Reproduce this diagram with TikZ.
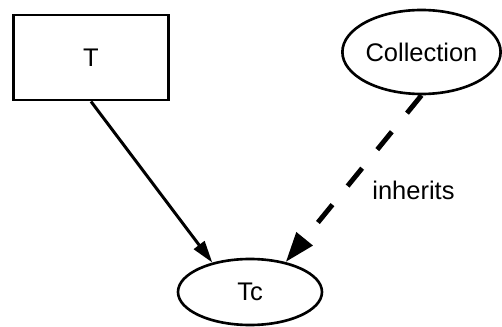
\documentclass[tikz,border=0pt]{standalone}
\usepackage{fontspec}
\setmainfont{Liberation Sans}
\usetikzlibrary{arrows.meta,shapes.geometric}

\begin{document}
\begin{tikzpicture}[
	every node/.style={font=\fontsize{14.5}{17}\selectfont},
	classbox/.style={draw, line width=1.7pt, minimum width=3.1cm, minimum height=1.7cm, inner sep=0pt},
	classoval/.style={draw, ellipse, line width=1.5pt, inner sep=0pt},
	uses/.style={-{Triangle[length=0.44cm,width=0.26cm]}, line width=1.7pt},
	inh/.style={-{Triangle[length=0.6cm,width=0.4cm]}, line width=2.8pt, dash pattern=on 0.46cm off 0.48cm}
]
	\useasboundingbox (0,0) rectangle (10.04,6.52);
	\node [classbox] (T) at (1.82, 5.37) {T};
	\node [classoval, minimum width=3.15cm, minimum height=1.68cm] (Coll) at (8.43, 5.48) {Collection};
	\node [classoval, minimum width=2.88cm, minimum height=1.32cm] (Tc) at (5.0, 0.68) {Tc};
	\draw [uses] (T.south) -- (Tc.142);
	\draw [inh] (Coll.south) -- node [right=0.4cm, pos=0.57] {inherits} (Tc.40);
\end{tikzpicture}
\end{document}
